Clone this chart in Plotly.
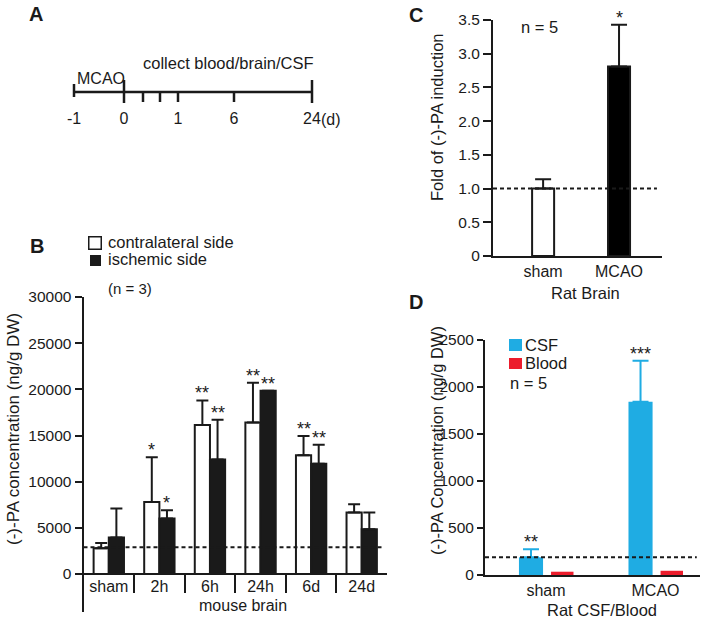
import plotly.graph_objects as go

W, H = 701, 621
FONT = "Liberation Sans, Arial, Helvetica, sans-serif"
INK = "#1a1a1a"
CYAN = "#1FACE3"
RED = "#EC1C2C"


def px(x):
    return x / W


def py(y):
    return 1 - y / H


# ---------------- Panel A: timeline schematic ----------------
a_tick_labels = ["-1", "0", "", "", "1", "6", "24"]
a_schematic_pos = [0, 50, 69, 86, 104, 160, 238]  # schematic (not to scale) spacing
a_tick_up = [0.4, 0.6, 0, 0, 0, 0, 0.6]
a_tick_down = [0.25, 0.55, 0.5, 0.5, 0.5, 0.5, 0.55]

# ---------------- Panel B: mouse brain ----------------
b_categories = ["sham", "2h", "6h", "24h", "6d", "24d"]
b_contra = [2800, 7800, 16150, 16400, 12850, 6650]
b_contra_err = [550, 4850, 2650, 4300, 2100, 900]
b_isch = [3950, 6000, 12400, 19850, 11950, 4850]
b_isch_err = [3150, 900, 4300, 0, 2050, 1800]
b_contra_sig = ["", "*", "**", "**", "**", ""]
b_isch_sig = ["", "*", "**", "**", "**", ""]
b_baseline = 2900
b_yticks = [0, 5000, 10000, 15000, 20000, 25000, 30000]

# ---------------- Panel C: rat brain ----------------
c_categories = ["sham", "MCAO"]
c_values = [1.0, 2.81]
c_err = [0.14, 0.62]
c_sig = ["", "*"]
c_colors = ["white", "black"]
c_baseline = 1.0
c_yticks = [0, 0.5, 1.0, 1.5, 2.0, 2.5, 3.0, 3.5]
c_yticktext = ["0", "0.5", "1.0", "1.5", "2.0", "2.5", "3.0", "3.5"]

# ---------------- Panel D: rat CSF / blood ----------------
d_categories = ["sham", "MCAO"]
d_csf = [188, 1843]
d_csf_err = [85, 437]
d_blood = [35, 45]
d_csf_sig = ["**", "***"]
d_baseline = 188
d_yticks = [0, 500, 1000, 1500, 2000, 2500]

fig = go.Figure()

# ---- A ----
fig.add_trace(go.Scatter(
    x=[a_schematic_pos[0], a_schematic_pos[-1]], y=[0, 0], mode="lines",
    line=dict(color=INK, width=2.5), xaxis="x4", yaxis="y4",
    showlegend=False, hoverinfo="skip"))
fig.add_trace(go.Scatter(
    x=a_schematic_pos, y=[0] * len(a_schematic_pos), mode="markers",
    marker=dict(size=1, color="rgba(0,0,0,0)"),
    error_y=dict(type="data", symmetric=False, array=a_tick_up,
                 arrayminus=a_tick_down, width=0, thickness=2.5, color=INK),
    xaxis="x4", yaxis="y4", showlegend=False, hoverinfo="skip"))

# ---- B ----
bx = list(range(len(b_categories)))
BW = 0.3
fig.add_trace(go.Bar(
    x=bx, y=b_contra, width=BW, offset=-BW, name="contralateral side",
    marker=dict(color="white", line=dict(color=INK, width=2)),
    error_y=dict(type="data", symmetric=False, array=b_contra_err,
                 arrayminus=[0] * len(bx), color=INK, thickness=2, width=6),
    xaxis="x", yaxis="y", showlegend=False))
fig.add_trace(go.Bar(
    x=bx, y=b_isch, width=BW, offset=0, name="ischemic side",
    marker=dict(color=INK, line=dict(color=INK, width=2)),
    error_y=dict(type="data", symmetric=False, array=b_isch_err,
                 arrayminus=[0] * len(bx), color=INK, thickness=2, width=6),
    xaxis="x", yaxis="y", showlegend=False))

# ---- C ----
cx = list(range(len(c_categories)))
fig.add_trace(go.Bar(
    x=cx, y=c_values, width=0.29,
    marker=dict(color=c_colors, line=dict(color=INK, width=2)),
    error_y=dict(type="data", symmetric=False, array=c_err,
                 arrayminus=[0] * len(cx), color=INK, thickness=2, width=8),
    xaxis="x2", yaxis="y2", showlegend=False))

# ---- D ----
dx = list(range(len(d_categories)))
D_CSF_OFF, D_CSF_W = -0.247, 0.22
D_BL_OFF, D_BL_W = 0.046, 0.205
fig.add_trace(go.Bar(
    x=dx, y=d_csf, width=D_CSF_W, offset=D_CSF_OFF, name="CSF",
    marker=dict(color=CYAN, line=dict(width=0)),
    error_y=dict(type="data", symmetric=False, array=d_csf_err,
                 arrayminus=[0] * len(dx), color=CYAN, thickness=2, width=8),
    xaxis="x3", yaxis="y3", showlegend=False))
fig.add_trace(go.Bar(
    x=dx, y=d_blood, width=D_BL_W, offset=D_BL_OFF, name="Blood",
    marker=dict(color=RED, line=dict(width=0)),
    xaxis="x3", yaxis="y3", showlegend=False))

# ---------------- baselines ----------------
dash = "4px,3px"
shapes = [
    dict(type="line", xref="x domain", yref="y", x0=0, x1=0.985,
         y0=b_baseline, y1=b_baseline, line=dict(color=INK, width=2, dash=dash)),
    dict(type="line", xref="x2 domain", yref="y2", x0=0, x1=0.97,
         y0=c_baseline, y1=c_baseline, line=dict(color=INK, width=2, dash=dash)),
    dict(type="line", xref="x3 domain", yref="y3", x0=0, x1=0.985,
         y0=d_baseline, y1=d_baseline, line=dict(color=INK, width=2, dash=dash)),
]

# ---------------- annotations ----------------
ann = []


def txt(text, x, y, size=16.5, xanchor="center", bold=False, angle=0, yanchor="middle"):
    ann.append(dict(text=f"<b>{text}</b>" if bold else text, x=px(x), y=py(y),
                    xref="paper", yref="paper", xanchor=xanchor, yanchor=yanchor,
                    showarrow=False, textangle=angle,
                    font=dict(family=FONT, size=size, color=INK)))


def swatch(x, y, w, h, fill, border):
    ann.append(dict(text=" ", x=px(x), y=py(y), xref="paper", yref="paper",
                    xanchor="center", yanchor="middle", showarrow=False,
                    width=w, height=h, bgcolor=fill, bordercolor=border,
                    borderwidth=1.5 if border != fill else 0, borderpad=0,
                    font=dict(size=1)))


# panel letters
txt("A", 36, 14, size=20, bold=True)
txt("B", 37, 246, size=20, bold=True)
txt("C", 416, 15, size=20, bold=True)
txt("D", 416, 302, size=20, bold=True)

# A texts
ann.append(dict(text="MCAO", x=(a_schematic_pos[0] + a_schematic_pos[1]) / 2, y=0,
                xref="x4", yref="y4", xanchor="center", yanchor="bottom",
                xshift=2, yshift=3, showarrow=False,
                font=dict(family=FONT, size=16, color=INK)))
ann.append(dict(text="collect blood/brain/CSF", x=a_schematic_pos[2], y=0,
                xref="x4", yref="y4", xanchor="left", yanchor="bottom",
                xshift=-2, yshift=18, showarrow=False,
                font=dict(family=FONT, size=16.5, color=INK)))
ann.append(dict(text="(d)", x=a_schematic_pos[-1], y=0, xref="x4", yref="y4",
                xanchor="left", yanchor="top", xshift=7, yshift=-17,
                showarrow=False, font=dict(family=FONT, size=16, color=INK)))

# B legend & texts
swatch(95.5, 243, 11, 11, "white", INK)
swatch(95.5, 260, 11, 11, INK, INK)
txt("contralateral side", 106, 242, xanchor="left")
txt("ischemic side", 106, 259, xanchor="left")
txt("(n = 3)", 106, 288, size=15, xanchor="left")
txt("(-)-PA concentration (ng/g DW)", 13, 429, size=17, angle=-90)
txt("mouse brain", 243, 605, size=16)

# C texts
txt("n = 5", 519, 27, xanchor="left")
txt("Fold of (-)-PA induction", 437, 117, angle=-90)
txt("Rat Brain", 585, 293)

# D legend & texts
swatch(515, 345, 13, 12, CYAN, CYAN)
swatch(515, 363, 13, 11, RED, RED)
txt("CSF", 523, 345, xanchor="left")
txt("Blood", 523, 363, xanchor="left")
txt("n = 5", 508, 383, xanchor="left")
txt("(-)-PA Concentration (ng/g DW)", 437, 441, angle=-90)
txt("Rat CSF/Blood", 602, 610)


# significance stars
def star(text, x, y, xr, yr):
    if text:
        ann.append(dict(text=text, x=x, y=y, xref=xr, yref=yr, xanchor="center",
                        yanchor="bottom", yshift=-5, showarrow=False,
                        font=dict(family=FONT, size=18, color=INK)))


for i in bx:
    star(b_contra_sig[i], i - BW / 2, b_contra[i] + b_contra_err[i], "x", "y")
    star(b_isch_sig[i], i + BW / 2, b_isch[i] + b_isch_err[i], "x", "y")
for i in cx:
    star(c_sig[i], i, c_values[i] + c_err[i], "x2", "y2")
for i in dx:
    star(d_csf_sig[i], i + D_CSF_OFF + D_CSF_W / 2, d_csf[i] + d_csf_err[i], "x3", "y3")


def axis(**kw):
    base = dict(showgrid=False, zeroline=False, showline=True, linecolor=INK,
                linewidth=2, tickcolor=INK, tickwidth=2, automargin=False,
                tickfont=dict(family=FONT, size=15.5, color=INK))
    base.update(kw)
    return base


cat_font = dict(family=FONT, size=16, color=INK)
b_y0 = -30000 * (612 - 574) / (574 - 297)

fig.update_layout(
    width=W, height=H, autosize=False,
    margin=dict(l=0, r=0, t=0, b=0, pad=0, autoexpand=False),
    paper_bgcolor="white", plot_bgcolor="rgba(0,0,0,0)",
    barmode="overlay", showlegend=False,
    font=dict(family=FONT, color=INK),
    shapes=shapes, annotations=ann,
    # B
    xaxis=axis(domain=[px(83.5), px(387)], range=[-0.5, len(bx) - 0.5],
               anchor="free", position=py(574), tickmode="array", tickvals=bx,
               ticktext=b_categories, ticks="", tickfont=cat_font,
               ticklabelstandoff=-2,
               minor=dict(tickmode="array", tickvals=[i + 0.5 for i in bx[:-1]],
                          ticks="outside", ticklen=18, tickwidth=2, tickcolor=INK,
                          showgrid=False)),
    yaxis=axis(domain=[py(612), py(297)], range=[b_y0, 30000],
               anchor="x", tickmode="array", tickvals=b_yticks,
               ticktext=[str(v) for v in b_yticks], ticks="outside", ticklen=7),
    # C
    xaxis2=axis(domain=[px(493), px(662)], range=[-0.66, 1.566],
                anchor="y2", tickmode="array", tickvals=cx, ticktext=c_categories,
                ticks="", tickfont=cat_font),
    yaxis2=axis(domain=[py(256), py(20)], range=[0, 3.5],
                anchor="x2", tickmode="array", tickvals=c_yticks,
                ticktext=c_yticktext, ticks="outside", ticklen=8),
    # D
    xaxis3=axis(domain=[px(485), px(700)], range=[-0.557, 1.406],
                anchor="y3", tickmode="array", tickvals=dx, ticktext=d_categories,
                ticks="", tickfont=cat_font),
    yaxis3=axis(domain=[py(575), py(340)], range=[0, 2500],
                anchor="x3", tickmode="array", tickvals=d_yticks,
                ticktext=[str(v) for v in d_yticks], ticks="outside", ticklen=6),
    # A
    xaxis4=dict(domain=[px(64), px(322)], range=[-10, 248], anchor="y4",
                showline=False, showgrid=False, zeroline=False, ticks="",
                automargin=False, tickmode="array",
                tickvals=[p for p, t in zip(a_schematic_pos, a_tick_labels) if t],
                ticktext=[t for t in a_tick_labels if t],
                tickfont=cat_font),
    yaxis4=dict(domain=[py(107), py(67)], range=[-0.75, 1.25], visible=False,
                anchor="x4", automargin=False),
)

fig.write_html(
    "out.html",
    config={"displayModeBar": False},
    post_script="document.body.style.margin='0';document.body.style.overflow='hidden';",
)
